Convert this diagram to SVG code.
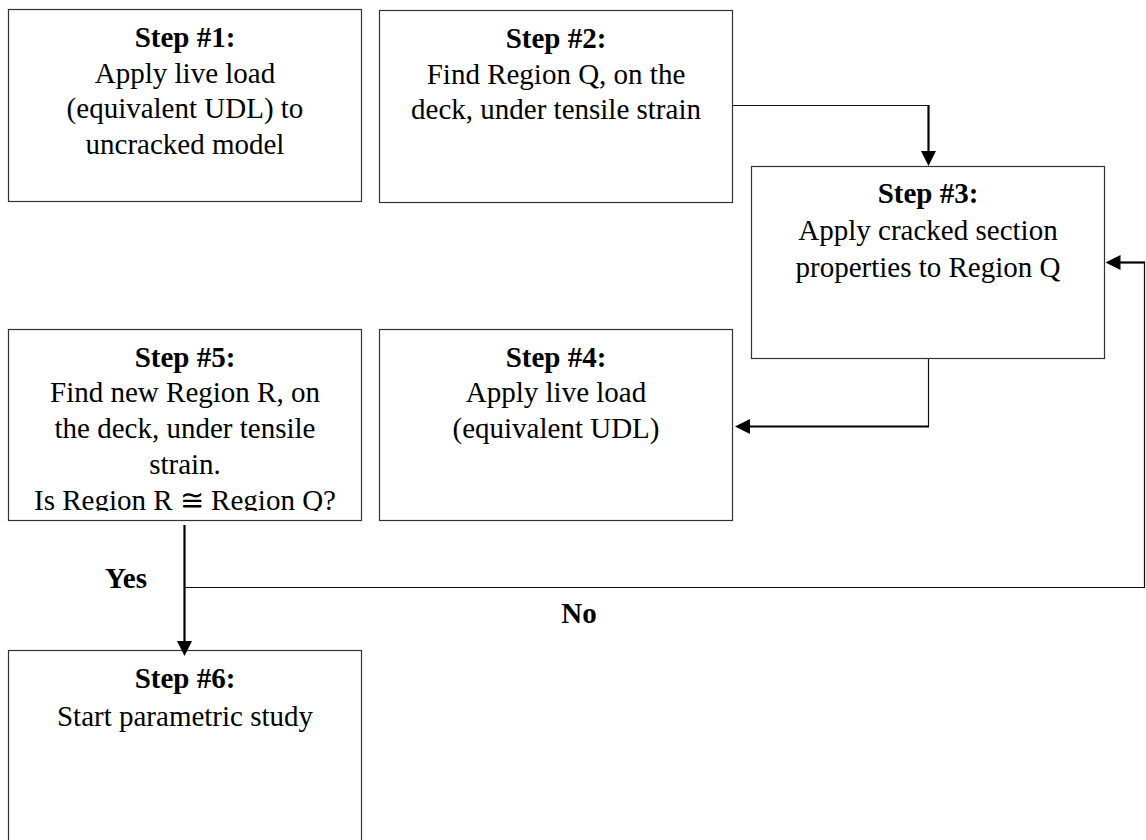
<svg xmlns="http://www.w3.org/2000/svg" width="1146" height="840" viewBox="0 0 1146 840">
<style>
.box{fill:#fff;stroke:#333;stroke-width:1.2}
.t{font-family:"Liberation Serif","Times New Roman",serif;font-size:29px;fill:#000;text-anchor:middle}
.b{font-weight:bold}
.thin{fill:none;stroke:#111;stroke-width:1.2}
.thick{fill:none;stroke:#000;stroke-width:2.2}
</style>
<defs>
<marker id="ah" viewBox="0 0 15 15" refX="5" refY="7.5" markerWidth="15" markerHeight="15" markerUnits="userSpaceOnUse" orient="auto">
<path d="M0,0 L15,7.5 L0,15 z" fill="#000"/>
</marker>
<clipPath id="clip5"><rect x="8" y="329" width="354" height="182"/></clipPath>
</defs>
<rect width="1146" height="840" fill="#fff"/>
<g id="step1">
<rect class="box" x="8.5" y="9.5" width="353" height="192"/>
<text class="t b" x="185" y="47">Step #1:</text>
<text class="t" x="185" y="82.5">Apply live load</text>
<text class="t" x="185" y="118">(equivalent UDL) to</text>
<text class="t" x="185" y="154">uncracked model</text>
</g>
<g id="step2">
<rect class="box" x="379.5" y="10.5" width="353" height="192"/>
<text class="t b" x="556" y="48">Step #2:</text>
<text class="t" x="556" y="83.5">Find Region Q, on the</text>
<text class="t" x="556" y="119">deck, under tensile strain</text>
</g>
<g id="step3">
<rect class="box" x="751.5" y="166.5" width="353" height="192"/>
<text class="t b" x="928" y="203">Step #3:</text>
<text class="t" x="928" y="239.5">Apply cracked section</text>
<text class="t" x="928" y="277">properties to Region Q</text>
</g>
<g id="step4">
<rect class="box" x="379.5" y="329.5" width="353" height="191"/>
<text class="t b" x="556" y="367">Step #4:</text>
<text class="t" x="556" y="402">Apply live load</text>
<text class="t" x="556" y="438">(equivalent UDL)</text>
</g>
<g id="step5">
<rect class="box" x="8.5" y="329.5" width="353" height="191"/>
<g clip-path="url(#clip5)">
<text class="t b" x="185" y="367">Step #5:</text>
<text class="t" x="185" y="402">Find new Region R, on</text>
<text class="t" x="185" y="438">the deck, under tensile</text>
<text class="t" x="185" y="473.5">strain.</text>
<text class="t" x="185" y="510">Is Region R ≅ Region Q?</text>
</g>
</g>
<g id="step6">
<rect class="box" x="8.5" y="650.5" width="353" height="200"/>
<text class="t b" x="185" y="688">Step #6:</text>
<text class="t" x="185" y="725.5">Start parametric study</text>
</g>
<g id="connectors">
<path class="thin" d="M733,105.5 H928.5"/>
<path class="thick" d="M928.5,105 V156" marker-end="url(#ah)"/>
<path class="thin" d="M928.5,359 V426.5"/>
<path class="thick" d="M929,426.5 H745" marker-end="url(#ah)"/>
<path class="thick" d="M184.5,525 V646" marker-end="url(#ah)"/>
<path class="thin" d="M184,587.5 H1144.5 V262"/>
<path class="thick" d="M1145,262.5 H1115.5" marker-end="url(#ah)"/>
</g>
<g id="labels">
<text class="t b" x="126" y="588">Yes</text>
<text class="t b" x="579" y="623">No</text>
</g>
</svg>
